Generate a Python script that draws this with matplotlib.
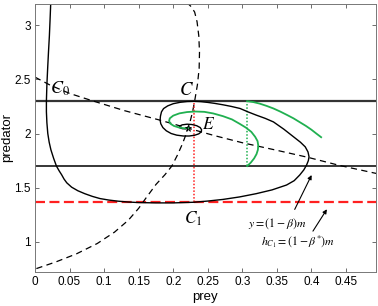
import numpy as np
import matplotlib
matplotlib.use("Agg")
import matplotlib.pyplot as plt

plt.rcParams['font.family'] = ['Liberation Sans', 'DejaVu Sans']
plt.rcParams['mathtext.fontset'] = 'stix'

# levels
y_top = 2.3        # upper horizontal line through C
y_mid = 1.7        # y = (1-beta) m
y_c1 = 1.37        # h_C1 = (1-beta*) m
x_c = 0.23         # abscissa of C / C1
x_green = 0.307

# black trajectory (comes down from the top, loops and spirals in to E)
traj_x = [0.0227, 0.0218, 0.0208, 0.0195, 0.0183, 0.0172, 0.0165, 0.0165, 0.0172, 0.0185,
          0.0205, 0.0230, 0.0270, 0.0310, 0.0350, 0.0385, 0.0420, 0.0460, 0.0530, 0.0620,
          0.0720, 0.0830, 0.0940, 0.1070, 0.1200, 0.1350, 0.1500, 0.1750, 0.2000, 0.2300,
          0.2500, 0.2720, 0.2960, 0.3200, 0.3430, 0.3640, 0.3750, 0.3830, 0.3890, 0.3930,
          0.3955, 0.3965, 0.3950, 0.3910, 0.3840, 0.3740, 0.3600, 0.3450, 0.3330, 0.3200,
          0.3080, 0.2967, 0.2840, 0.2720, 0.2600, 0.2500, 0.2400, 0.2300, 0.2200, 0.2100,
          0.2000, 0.1920, 0.1860, 0.1830, 0.1815, 0.1810, 0.1820, 0.1850, 0.1900, 0.1970,
          0.2050, 0.2146, 0.2230, 0.2310, 0.2370, 0.2405, 0.2410, 0.2390, 0.2340, 0.2270,
          0.2200, 0.2130, 0.2090, 0.2090, 0.2130, 0.2180, 0.2216]
traj_y = [3.195, 3.050, 2.900, 2.750, 2.600, 2.450, 2.300, 2.200, 2.100, 2.000,
          1.920, 1.850, 1.770, 1.700, 1.655, 1.620, 1.580, 1.545, 1.505, 1.472,
          1.445, 1.420, 1.400, 1.386, 1.376, 1.368, 1.363, 1.360, 1.360, 1.366,
          1.377, 1.392, 1.415, 1.445, 1.480, 1.525, 1.565, 1.617, 1.665, 1.710,
          1.750, 1.785, 1.830, 1.877, 1.920, 1.970, 2.040, 2.107, 2.140, 2.170,
          2.200, 2.231, 2.250, 2.265, 2.278, 2.287, 2.294, 2.297, 2.295, 2.288,
          2.275, 2.255, 2.230, 2.200, 2.160, 2.123, 2.090, 2.055, 2.025, 2.000,
          1.985, 1.977, 1.977, 1.984, 1.997, 2.015, 2.035, 2.055, 2.072, 2.083,
          2.086, 2.080, 2.068, 2.055, 2.045, 2.043, 2.053]

# green trajectory pieces
g1_x = [0.307, 0.312, 0.317, 0.3205, 0.3225, 0.323, 0.322, 0.3185, 0.313, 0.305,
        0.296, 0.285, 0.272, 0.258, 0.245, 0.232, 0.220, 0.209, 0.200, 0.195,
        0.194, 0.196, 0.201, 0.208, 0.215, 0.222]
g1_y = [1.700, 1.730, 1.770, 1.810, 1.850, 1.890, 1.930, 1.970, 2.015, 2.055,
        2.090, 2.130, 2.160, 2.185, 2.200, 2.203, 2.198, 2.186, 2.165, 2.140,
        2.115, 2.090, 2.070, 2.056, 2.049, 2.050]
g2_x = [0.307, 0.316, 0.325, 0.335, 0.345, 0.355, 0.365, 0.374, 0.383, 0.392, 0.400, 0.407, 0.414]
g2_y = [2.298, 2.290, 2.276, 2.255, 2.231, 2.202, 2.170, 2.140, 2.105, 2.070, 2.035, 2.000, 1.966]

# nullclines
null1_x = [0.0, 0.022, 0.05, 0.084, 0.13, 0.181, 0.221, 0.26, 0.30, 0.35, 0.395, 0.441, 0.495]
null1_y = [2.52, 2.446, 2.37, 2.30, 2.21, 2.123, 2.05, 1.98, 1.915, 1.845, 1.78, 1.705, 1.63]
null2_x = [0.002, 0.030, 0.060, 0.090, 0.115, 0.135, 0.150, 0.160, 0.175, 0.188, 0.198,
           0.206, 0.213, 0.219, 0.224, 0.228, 0.231, 0.235, 0.2375, 0.238, 0.237,
           0.2345, 0.231, 0.226, 0.222]
null2_y = [0.754, 0.815, 0.890, 0.985, 1.090, 1.200, 1.310, 1.400, 1.530, 1.620, 1.700,
           1.800, 1.900, 2.000, 2.100, 2.200, 2.300, 2.450, 2.600, 2.750, 2.900,
           3.030, 3.120, 3.170, 3.195]

E = (0.2216, 2.053)

fig = plt.figure(figsize=(3.78, 3.06), dpi=100)
ax = fig.add_axes([0.0926, 0.112, 0.9014, 0.875])

ax.axhline(y_top, color='#333333', lw=1.6)
ax.axhline(y_mid, color='black', lw=1.1)
ax.axhline(y_c1, color='#ff2020', lw=1.6, ls=(0, (4.5, 2)))

ax.plot(null1_x, null1_y, color='black', lw=0.9, ls=(0, (5, 3.5)))
ax.plot(null2_x, null2_y, color='black', lw=0.9, ls=(0, (5, 3.5)))

ax.plot([x_c, x_c], [y_c1, y_top], color='#ff2020', lw=1.1, ls=(0, (1, 1.2)))
ax.plot([x_green, x_green], [y_mid, y_top], color='#20b050', lw=1.1, ls=(0, (1, 1.2)))

ax.plot(traj_x, traj_y, color='black', lw=1.0)
ax.plot(g1_x, g1_y, color='#20b050', lw=1.3)
ax.plot(g2_x, g2_y, color='#20b050', lw=1.3)
ax.plot(*E, marker='*', color='black', ms=5, mew=0.6, mfc='none')

ax.text(0.022, 2.41, r'$C_0$', fontsize=13, va='center', ha='left')
ax.text(0.209, 2.40, r'$C$', fontsize=13.5, va='center', ha='left')
ax.text(0.242, 2.09, r'$E$', fontsize=12.5, va='center', ha='left')
ax.text(0.216, 1.21, r'$C_1$', fontsize=12.5, va='center', ha='left')
ax.text(0.350, 1.17, r'$y=\left(1-\beta\right)m$', fontsize=8.5, va='center', ha='center')
ax.text(0.381, 1.00, r'$h_{C_1}=\left(1-\beta^{*}\right)m$', fontsize=8.5, va='center', ha='center')

ax.annotate('', xy=(0.402, 1.64), xytext=(0.374, 1.277),
            arrowprops=dict(arrowstyle='-|>', color='black', lw=0.8, mutation_scale=6))
ax.annotate('', xy=(0.4245, 1.323), xytext=(0.40, 1.078),
            arrowprops=dict(arrowstyle='-|>', color='black', lw=0.8, mutation_scale=6))

ax.set_xlim(0, 0.493)
ax.set_ylim(0.725, 3.195)
ax.set_xticks(np.arange(0, 0.46, 0.05))
ax.set_xticklabels(['0', '0.05', '0.1', '0.15', '0.2', '0.25', '0.3', '0.35', '0.4', '0.45'])
ax.set_yticks([1, 1.5, 2, 2.5, 3])
ax.set_yticklabels(['1', '1.5', '2', '2.5', '3'])
ax.tick_params(direction='in', top=True, right=True, labelsize=8.5, length=3, width=0.6,
               color='#555555', pad=3)
for s in ax.spines.values():
    s.set_color('#777777')
    s.set_linewidth(0.7)
ax.set_xlabel('prey', fontsize=9.5, labelpad=2)
ax.set_ylabel('predator', fontsize=9.5, labelpad=1)

fig.savefig('out.png', dpi=100)
